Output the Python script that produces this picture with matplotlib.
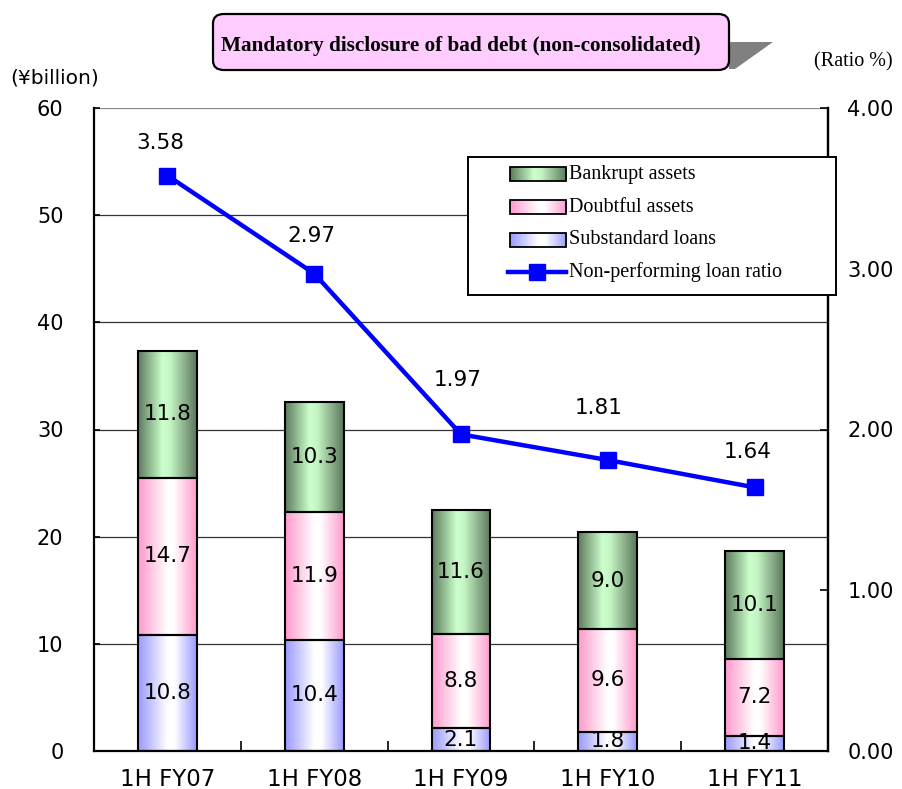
import numpy as np
import matplotlib
matplotlib.use("Agg")
import matplotlib.pyplot as plt
from matplotlib.colors import LinearSegmentedColormap
from matplotlib.patches import Rectangle, FancyBboxPatch, Polygon
from matplotlib.lines import Line2D

# ---------------------------------------------------------------------------
# data
# ---------------------------------------------------------------------------
periods = ["1H FY07", "1H FY08", "1H FY09", "1H FY10", "1H FY11"]
substandard = [10.8, 10.4, 2.1, 1.8, 1.4]
doubtful = [14.7, 11.9, 8.8, 9.6, 7.2]
bankrupt = [11.8, 10.3, 11.6, 9.0, 10.1]
npl_ratio = [3.58, 2.97, 1.97, 1.81, 1.64]

left_ticks = [0, 10, 20, 30, 40, 50, 60]
right_ticks = [0, 1, 2, 3, 4]

# where the ratio labels sit relative to their markers (pixels)
label_dx = [-7, -3, -3, -9, -7]
label_dy = [33, 38, 54, 52, 35]

# ---------------------------------------------------------------------------
# gradient fills (dark edges, light middle)
# ---------------------------------------------------------------------------
cm_green = LinearSegmentedColormap.from_list(
    "g", [(0, "#5c7a5c"), (0.42, "#ccffcc"), (0.55, "#c4f4c4"), (1, "#5a765a")])
cm_pink = LinearSegmentedColormap.from_list(
    "p", [(0, "#ff99cc"), (0.5, "#ffffff"), (0.6, "#ffffff"), (1, "#ff99cc")])
cm_blue = LinearSegmentedColormap.from_list(
    "b", [(0, "#9999ff"), (0.5, "#ffffff"), (0.62, "#ffffff"), (1, "#9999ff")])
GRAD = np.linspace(0, 1, 256).reshape(1, -1)


def grad_rect(ax, x0, x1, y0, y1, cmap, lw=1.5, z=2):
    ax.imshow(GRAD, extent=(x0, x1, y0, y1), cmap=cmap, aspect="auto",
              origin="lower", interpolation="bilinear", zorder=z)
    ax.add_patch(Rectangle((x0, y0), x1 - x0, y1 - y0, fill=False,
                           edgecolor="black", lw=lw, zorder=z + 1))


W, H = 903, 789
fig = plt.figure(figsize=(W / 100, H / 100), dpi=100)
ax = fig.add_axes([94 / W, 1 - 751 / H, (828 - 94) / W, (751 - 108) / H])

tick_font = dict(family="DejaVu Sans", size=15)
x = np.arange(len(periods))
bw = 0.4

# gridlines
for t in left_ticks[1:]:
    ax.axhline(t, color="#888888" if t == 60 else "#333333", lw=0.9, zorder=1)

# stacked gradient bars
for i in x:
    b0 = 0
    for val, cm in ((substandard[i], cm_blue), (doubtful[i], cm_pink), (bankrupt[i], cm_green)):
        grad_rect(ax, i - bw / 2, i + bw / 2, b0, b0 + val, cm)
        ax.text(i, b0 + val / 2, f"{val:.1f}", ha="center", va="center",
                fontsize=15.5, family="DejaVu Sans", zorder=5)
        b0 += val

ax.set_xlim(-0.5, len(periods) - 0.5)
ax.set_ylim(0, 60)
ax.set_yticks(left_ticks)
ax.set_yticklabels([str(t) for t in left_ticks], **tick_font)
ax.set_xticks(x)
ax.set_xticklabels(periods, family="DejaVu Sans", size=16.5)
ax.set_xticks(x[:-1] + 0.5, minor=True)
ax.tick_params(axis="x", which="major", length=0, pad=12)
ax.tick_params(axis="x", which="minor", direction="in", length=7, width=1.2)
ax.tick_params(axis="y", direction="in", length=4, width=1.2, pad=22)
ax.spines["top"].set_visible(False)
for s in ("left", "bottom", "right"):
    ax.spines[s].set_linewidth(1.6)

# ratio line on the secondary axis
ax2 = ax.twinx()
ax2.plot(x, npl_ratio, color="#0000ff", lw=3.2, marker="s", markersize=12, zorder=6)
for xi, r, dx, dy in zip(x, npl_ratio, label_dx, label_dy):
    ax2.annotate(f"{r:.2f}", (xi, r), xytext=(dx * 0.72, dy * 0.72),
                 textcoords="offset points", ha="center", va="center",
                 fontsize=15.5, family="DejaVu Sans")
ax2.set_ylim(0, 4)
ax2.set_yticks(right_ticks)
ax2.set_yticklabels([f"{t:.2f}" for t in right_ticks], **tick_font)
ax2.tick_params(axis="y", direction="in", length=6, width=1.2, pad=14)
ax2.spines["top"].set_visible(False)
ax2.spines["right"].set_linewidth(1.6)
ax2.spines["left"].set_visible(False)
ax2.spines["bottom"].set_visible(False)

# axis unit labels
fig.text(10 / W, 1 - 78 / H, "(¥billion)", fontsize=14.5, family="DejaVu Sans",
         ha="left", va="center")
fig.text(853 / W, 1 - 62 / H, "(Ratio %)", fontsize=14.5, family="Liberation Serif",
         ha="center", va="center")

# title box with shadow
fig.patches.append(Polygon([(729 / W, 1 - 42 / H), (773 / W, 1 - 42 / H),
                            (735 / W, 1 - 69 / H), (729 / W, 1 - 69 / H)],
                           closed=True, transform=fig.transFigure,
                           facecolor="#808080", edgecolor="none", zorder=0))
fig.patches.append(FancyBboxPatch((213 / W, 1 - 70 / H), (729 - 213) / W, 56 / H,
                                  boxstyle="round,pad=0,rounding_size=0.012",
                                  transform=fig.transFigure, facecolor="#ffccff",
                                  edgecolor="black", lw=1.6, zorder=1))
fig.text(461 / W, 1 - 46 / H, "Mandatory disclosure of bad debt (non-consolidated)",
         fontsize=15.3, family="Liberation Serif", weight="bold", ha="center",
         va="center", zorder=2)

# legend drawn in its own pixel-coordinate axes
lg = fig.add_axes([468 / W, 1 - 295 / H, (836 - 468) / W, (295 - 157) / H])
lg.set_facecolor("white")
for s in lg.spines.values():
    s.set_linewidth(1.4)
entries = [("Bankrupt assets", cm_green, 174), ("Doubtful assets", cm_pink, 207),
           ("Substandard loans", cm_blue, 240)]
for label, cm, yc in entries:
    lg.imshow(GRAD, extent=(510, 566, yc + 7, yc - 7), cmap=cm, aspect="auto",
              interpolation="bilinear", zorder=2)
    lg.add_patch(Rectangle((510, yc - 7), 56, 14, fill=False, edgecolor="black",
                           lw=1.3, zorder=3))
    lg.text(569, yc, label, fontsize=14.5, family="Liberation Serif", va="center", ha="left")
lg.add_line(Line2D([508, 566], [272, 272], color="#0000ff", lw=3.2))
lg.plot([537], [272], marker="s", color="#0000ff", markersize=12)
lg.text(569, 272, "Non-performing loan ratio", fontsize=14.5, family="Liberation Serif",
        va="center", ha="left")
lg.set_xlim(468, 836)
lg.set_ylim(295, 157)
lg.set_xticks([])
lg.set_yticks([])

fig.savefig("out.png", dpi=100)
